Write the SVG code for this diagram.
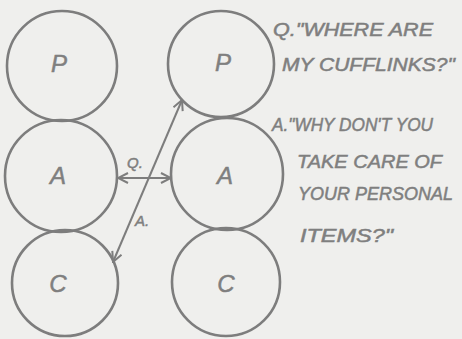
<svg xmlns="http://www.w3.org/2000/svg" width="462" height="339" viewBox="0 0 462 339">
<style>
.c{fill:none;stroke:#7d7d7d;stroke-width:2.6}
.l{fill:none;stroke:#7d7d7d;stroke-width:2}
.t{font-family:"Liberation Sans",Arial,sans-serif;font-style:italic;fill:#7f7f7f;stroke:#7f7f7f;stroke-width:0.5}
.n{font-size:24px;text-anchor:middle}
.q{font-size:18px}
.s{font-size:15px}
</style>
<defs>
<marker id="ah" viewBox="0 0 12 12" refX="11" refY="6" markerWidth="12" markerHeight="12" markerUnits="userSpaceOnUse" orient="auto-start-reverse">
<path d="M1,1 L11,6 L1,11" fill="none" stroke="#7d7d7d" stroke-width="2"/>
</marker>
</defs>
<rect width="462" height="339" fill="#efefed"/>
<g id="P1"><circle class="c" cx="62" cy="66" r="55"/><text class="t n" x="59" y="72">P</text></g>
<g id="A1"><circle class="c" cx="61" cy="176" r="56"/><text class="t n" x="58" y="184">A</text></g>
<g id="C1"><circle class="c" cx="65" cy="283" r="53"/><text class="t n" x="58" y="292">C</text></g>
<g id="P2"><circle class="c" cx="221" cy="64" r="53"/><text class="t n" x="223" y="71">P</text></g>
<g id="A2"><circle class="c" cx="227" cy="174" r="56"/><text class="t n" x="225" y="184">A</text></g>
<g id="C2"><circle class="c" cx="226" cy="282" r="54"/><text class="t n" x="226" y="292">C</text></g>
<g id="connectors">
<line class="l" x1="118" y1="178" x2="171" y2="178" marker-start="url(#ah)" marker-end="url(#ah)"/>
<line class="l" x1="113" y1="262" x2="182" y2="100" marker-start="url(#ah)" marker-end="url(#ah)"/>
<text class="t s" x="127" y="168">Q.</text>
<text class="t s" x="135" y="226" font-size="17">A.</text>
</g>
<g id="dialogue">
<text class="t q" x="273" y="36" textLength="160" lengthAdjust="spacingAndGlyphs">Q."WHERE ARE</text>
<text class="t q" x="282" y="71" textLength="173" lengthAdjust="spacingAndGlyphs">MY CUFFLINKS?"</text>
<text class="t q" x="272" y="131" textLength="161" lengthAdjust="spacingAndGlyphs">A."WHY DON'T YOU</text>
<text class="t q" x="297" y="168" textLength="145" lengthAdjust="spacingAndGlyphs">TAKE CARE OF</text>
<text class="t q" x="298" y="200" textLength="155" lengthAdjust="spacingAndGlyphs">YOUR PERSONAL</text>
<text class="t q" x="300" y="242" textLength="93" lengthAdjust="spacingAndGlyphs">ITEMS?"</text>
</g>
</svg>
